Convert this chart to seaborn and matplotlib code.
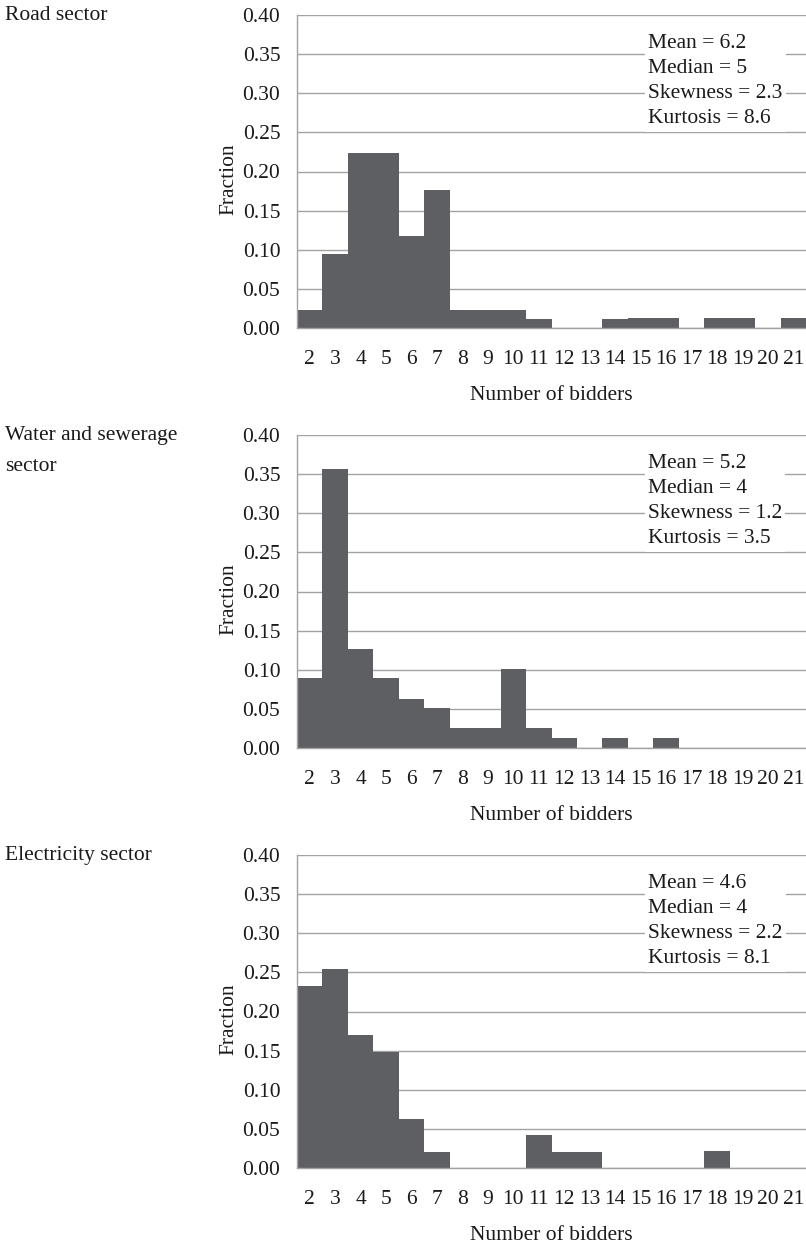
import matplotlib
matplotlib.use("Agg")
import matplotlib.pyplot as plt
import matplotlib.transforms as mtransforms
from matplotlib.ticker import FormatStrFormatter
import seaborn as sns
import pandas as pd
import numpy as np

# ---- data ----
bidders = list(range(2, 22))
tick_labels = [str(b) for b in bidders]
road = [0.023, 0.094, 0.224, 0.224, 0.118, 0.176, 0.023, 0.023, 0.023, 0.012,
        0.0, 0.0, 0.012, 0.013, 0.013, 0.0, 0.013, 0.013, 0.0, 0.013]
water = [0.089, 0.357, 0.127, 0.089, 0.063, 0.051, 0.025, 0.025, 0.101, 0.025,
         0.013, 0.0, 0.013, 0.0, 0.013, 0.0, 0.0, 0.0, 0.0, 0.0]
electricity = [0.233, 0.254, 0.170, 0.148, 0.063, 0.021, 0.0, 0.0, 0.0, 0.042,
               0.021, 0.021, 0.0, 0.0, 0.0, 0.0, 0.022, 0.0, 0.0, 0.0]
sector_names = ["Road sector", "Water and sewerage\nsector", "Electricity sector"]
stat_texts = [
    "Mean = 6.2\nMedian = 5\nSkewness = 2.3\nKurtosis = 8.6",
    "Mean = 5.2\nMedian = 4\nSkewness = 1.2\nKurtosis = 3.5",
    "Mean = 4.6\nMedian = 4\nSkewness = 2.2\nKurtosis = 8.1",
]
y_ticks = [0.00, 0.05, 0.10, 0.15, 0.20, 0.25, 0.30, 0.35, 0.40]

series = [road, water, electricity]

sns.set_style("white")
plt.rcParams['font.family'] = ['Liberation Serif', 'DejaVu Serif']
FS = 15.5
BAR = "#5e5f63"
GRID = "#a3a3a3"
TXT = "#1a1a1a"

W, H = 806, 1247
fig = plt.figure(figsize=(W / 100, H / 100), dpi=100)

tops = [15, 435, 855]
ax_h = 313
left = 297

for top, vals, name, stxt in zip(tops, series, sector_names, stat_texts):
    ax = fig.add_axes([left / W, 1 - (top + ax_h) / H, (W - left) / W, ax_h / H])
    df = pd.DataFrame({"bidders": bidders, "frac": vals})
    sns.barplot(data=df, x="bidders", y="frac", order=bidders, color=BAR,
                saturation=1, width=1.0, linewidth=0, ax=ax)
    ax.set_xlim(-0.5, len(bidders) - 0.5)
    ax.set_ylim(0, 0.40)
    ax.set_yticks(y_ticks)
    ax.yaxis.set_major_formatter(FormatStrFormatter('%.2f'))
    ax.yaxis.grid(True, color=GRID, lw=1.0)
    ax.xaxis.grid(False)
    ax.set_axisbelow(True)
    for s in ["top", "right"]:
        ax.spines[s].set_visible(False)
    for s in ["left", "bottom"]:
        ax.spines[s].set_color(GRID)
        ax.spines[s].set_linewidth(1.0)
    # tick marks at category edges, labels at centres
    ax.set_xticks(np.arange(-0.5, len(bidders), 1.0))
    ax.set_xticklabels([])
    ax.set_xticks(np.arange(0, len(bidders)), minor=True)
    ax.set_xticklabels(tick_labels, minor=True)
    ax.tick_params(axis='x', which='major', length=7, width=1, color=GRID, direction='out')
    ax.tick_params(axis='x', which='minor', length=0, pad=16, labelsize=FS, labelcolor=TXT)
    ax.tick_params(axis='y', length=7, width=1, color=GRID, direction='out', pad=5,
                   labelsize=FS, labelcolor=TXT)
    ax.set_xlabel("Number of bidders", fontsize=FS, color=TXT, labelpad=12)
    ax.set_ylabel("Fraction", fontsize=FS, color=TXT)
    ax.yaxis.set_label_coords(-0.115, 0.475)

    ax.text((648 - left) / (W - left), 0.789, stxt, transform=ax.transAxes,
            fontsize=FS, color=TXT, va='center', ha='left', linespacing=1.45,
            bbox=dict(boxstyle='square,pad=0.15', facecolor='white', edgecolor='none'),
            zorder=5)

    trans = mtransforms.blended_transform_factory(fig.transFigure, ax.transAxes)
    ax.text(5 / W, 1.0 + 9 / ax_h, name, transform=trans, fontsize=FS, color=TXT,
            va='top', ha='left', linespacing=1.85)

fig.savefig("out.png", dpi=100, facecolor='white')
